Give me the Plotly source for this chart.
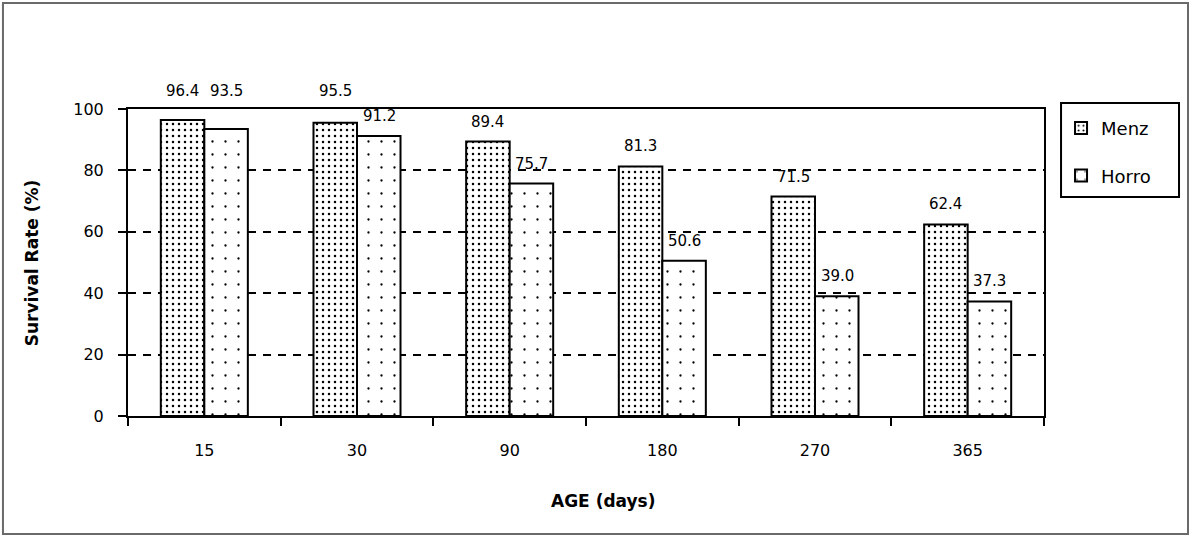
import plotly.graph_objects as go

ages = ["15", "30", "90", "180", "270", "365"]
menz = [96.4, 95.5, 89.4, 81.3, 71.5, 62.4]
horro = [93.5, 91.2, 75.7, 50.6, 39.0, 37.3]
y_ticks = [0, 20, 40, 60, 80, 100]

FONT = "DejaVu Sans"

fig = go.Figure()
fig.add_trace(go.Bar(
    x=ages, y=menz, name="Menz",
    marker=dict(color="white", line=dict(color="black", width=2),
                pattern=dict(shape=".", size=6, solidity=0.14, fgcolor="black",
                             bgcolor="white", fillmode="replace")),
    legendgroup="a",
))
fig.add_trace(go.Bar(
    x=ages, y=horro, name="Horro",
    marker=dict(color="white", line=dict(color="black", width=2),
                pattern=dict(shape=".", size=13, solidity=0.025, fgcolor="black",
                             bgcolor="white", fillmode="replace")),
    legendgroup="b",
))

annotations = []
for series, shift in ((menz, -22), (horro, 22)):
    for i, v in enumerate(series):
        yv = 100 if v > 92 else v
        annotations.append(dict(
            x=i, y=yv, xref="x", yref="y", text=f"{v:.1f}", showarrow=False,
            xshift=shift, yanchor="bottom", yshift=9 if v <= 92 else 7,
            font=dict(family=FONT, size=15, color="black"),
        ))

annotations.append(dict(
    x=0.5186, y=-0.277, xref="paper", yref="paper", text="<b>AGE (days)</b>",
    showarrow=False, font=dict(family=FONT, size=17, color="black"),
    xanchor="center", yanchor="middle",
))
annotations.append(dict(
    x=-0.105, y=0.5, xref="paper", yref="paper", text="<b>Survival Rate (%)</b>",
    showarrow=False, textangle=-90, font=dict(family=FONT, size=17, color="black"),
    xanchor="center", yanchor="middle",
))

shapes = [
    # outer border
    dict(type="rect", xref="paper", yref="paper", x0=-0.1365, x1=1.1572,
         y0=-0.3844, y1=1.3453, line=dict(color="#6a6a6a", width=2)),
    # legend box
    dict(type="rect", xref="paper", yref="paper", x0=1.0186, x1=1.1474,
         y0=0.713, y1=1.0195, line=dict(color="black", width=2)),
]

fig.update_layout(
    width=1190, height=536,
    margin=dict(l=128, r=146, t=109, b=120),
    paper_bgcolor="white", plot_bgcolor="white",
    barmode="group", bargap=0.43, bargroupgap=0,
    font=dict(family=FONT, size=15, color="black"),
    showlegend=True,
    legend=dict(x=1.0186, y=0.997, xanchor="left", yanchor="top",
                font=dict(family=FONT, size=18, color="black"),
                bgcolor="rgba(0,0,0,0)", borderwidth=0,
                traceorder="grouped", tracegroupgap=21),
    annotations=annotations,
    shapes=shapes,
)
fig.update_xaxes(
    type="category", range=[-0.5, len(ages) - 0.5],
    showline=True, linecolor="black", linewidth=2, mirror=True,
    ticks="outside", tickson="boundaries", ticklen=8, tickwidth=2, tickcolor="black",
    showgrid=False, ticklabelstandoff=19,
    tickfont=dict(family=FONT, size=16, color="black"),
)
fig.update_yaxes(
    range=[0, 100], tickvals=y_ticks,
    showline=True, linecolor="black", linewidth=2, mirror=True,
    ticks="outside", ticklen=8, tickwidth=2, tickcolor="black",
    showgrid=True, gridcolor="black", gridwidth=1.5, griddash="8px,7px",
    zeroline=False, ticklabelstandoff=11,
    tickfont=dict(family=FONT, size=16, color="black"),
)

fig.write_html("out.html")
